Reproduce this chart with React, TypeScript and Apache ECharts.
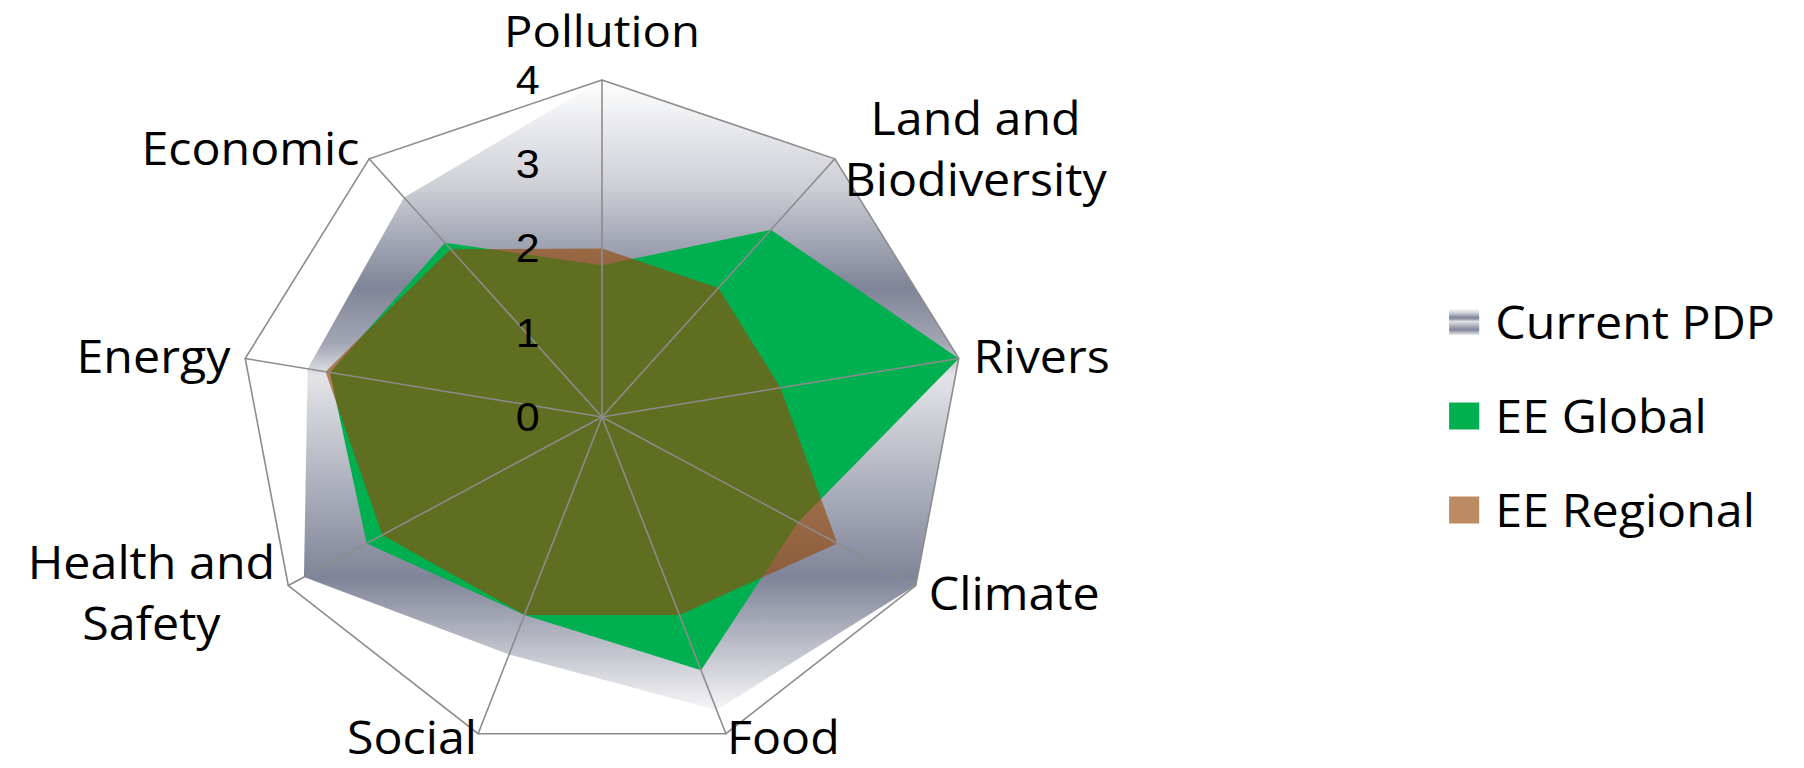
import React, { useEffect, useRef } from "react";
import * as echarts from "echarts";

// Categories listed clockwise from the top, as in the reference
const categories = [
  "Pollution",
  "Land and\nBiodiversity",
  "Rivers",
  "Climate",
  "Food",
  "Social",
  "Health and\nSafety",
  "Energy",
  "Economic",
];
const seriesNames = ["Current PDP", "EE Global", "EE Regional"];
const currentPDP = [4, 4, 4, 4, 3.7, 3.0, 3.8, 3.3, 3.4];
const eeGlobal = [1.8, 2.9, 4, 2.5, 3.2, 2.5, 3.0, 3.05, 2.7];
const eeRegional = [2.0, 2.0, 2.0, 3.0, 2.5, 2.5, 2.8, 3.1, 2.6];
const axisMin = 0;
const axisMax = 4;
const splitCount = 4;

const FONT = "'Open Sans', 'Noto Sans', sans-serif";
const TICK_FONT = "'Liberation Sans', Arial, sans-serif";
// the reference picture is slightly wider than tall; reproduce that aspect
const STRETCH_X = 1.075;
const W = 1804;
const H = 768;

// ECharts lays radar indicators counter-clockwise; reorder so they read clockwise
const order = categories.map((_, i) => (i === 0 ? 0 : categories.length - i));
const reorder = <T,>(arr: T[]): T[] => order.map((i) => arr[i]);

export default function App() {
  const ref = useRef<HTMLDivElement>(null);

  useEffect(() => {
    if (!ref.current) return;
    const chart = echarts.init(ref.current, undefined, { renderer: "svg" });

    const metal = new echarts.graphic.LinearGradient(0, 0, 0, 1, [
      { offset: 0, color: "#ffffff" },
      { offset: 0.17, color: "#cdcfd6" },
      { offset: 0.33, color: "#7f8498" },
      { offset: 0.42, color: "#a4a7b5" },
      { offset: 0.47, color: "#e3e4e8" },
      { offset: 0.79, color: "#7f8498" },
      { offset: 1, color: "#f6f6f7" },
    ]);
    const green = "#00B050";
    const brown = "rgba(151,72,6,0.63)";

    const nameGaps: Record<string, number> = {
      Pollution: 27,
      Food: 3,
      Social: 3,
    };

    const indicators = reorder(categories).map((name, k) => {
      const ind: any = {
        name,
        min: axisMin,
        max: axisMax,
        axisLabel: { show: k === 0 },
      };
      if (nameGaps[name] != null) ind.nameGap = nameGaps[name];
      return ind;
    });

    const colors = [metal, green, brown];
    const values = [currentPDP, eeGlobal, eeRegional];

    chart.setOption({
      animation: false,
      backgroundColor: "#ffffff",
      textStyle: { fontFamily: FONT },
      legend: {
        orient: "vertical",
        left: 1348,
        top: 298,
        padding: 0,
        icon: "rect",
        itemWidth: 28,
        itemHeight: 27,
        itemGap: 46,
        data: seriesNames,
        itemStyle: { borderWidth: 0 },
        textStyle: {
          fontFamily: FONT,
          fontSize: 45,
          lineHeight: 48,
          color: "#000000",
          padding: [0, 0, 0, 10],
        },
      },
      radar: {
        z: 5,
        center: [560, 417],
        radius: 337,
        startAngle: 90,
        shape: "polygon",
        splitNumber: splitCount,
        indicator: indicators,
        axisName: {
          color: "#000000",
          fontFamily: FONT,
          fontSize: 45,
          formatter: (name: string) => {
            const lines = name.split("\n");
            const tag =
              lines.length > 1 ? "m" : name === categories[0] ? "p" : "s";
            return lines.map((l) => `{${tag}|${l}}`).join("\n");
          },
          rich: {
            p: {
              align: "center",
              fontFamily: FONT,
              fontSize: 44,
              lineHeight: 46,
              color: "#000000",
            },
            s: {
              align: "center",
              fontFamily: FONT,
              fontSize: 45,
              lineHeight: 46,
              color: "#000000",
            },
            m: {
              align: "center",
              fontFamily: FONT,
              fontSize: 45,
              lineHeight: 61,
              color: "#000000",
            },
          },
        },
        nameGap: 14,
        axisLine: { show: true, lineStyle: { color: "#8c8c8c", width: 1.5 } },
        axisTick: { show: false },
        axisLabel: {
          show: false,
          color: "#000000",
          fontFamily: TICK_FONT,
          fontSize: 40,
          margin: 58,
          padding: [8, 0, 0, 0],
        },
        splitLine: {
          show: true,
          lineStyle: {
            color: [
              "rgba(0,0,0,0)",
              "rgba(0,0,0,0)",
              "rgba(0,0,0,0)",
              "rgba(0,0,0,0)",
              "#8c8c8c",
            ],
            width: 1.5,
          },
        },
        splitArea: { show: false },
      },
      series: [
        {
          type: "radar",
          z: 2,
          symbol: "none",
          data: seriesNames.map((name, i) => ({
            name,
            value: reorder(values[i]),
            itemStyle: { color: colors[i] },
            lineStyle: { width: 0, opacity: 0 },
            areaStyle: { color: colors[i], opacity: 1 },
          })),
        },
      ],
    });

    return () => chart.dispose();
  }, []);

  return (
    <div
      style={{
        position: "fixed",
        left: 0,
        top: 0,
        width: W,
        height: H,
        overflow: "hidden",
        background: "#ffffff",
      }}
    >
      <div
        ref={ref}
        style={{
          width: Math.round(W / STRETCH_X),
          height: H,
          transform: `scaleX(${STRETCH_X})`,
          transformOrigin: "0 0",
        }}
      />
    </div>
  );
}
